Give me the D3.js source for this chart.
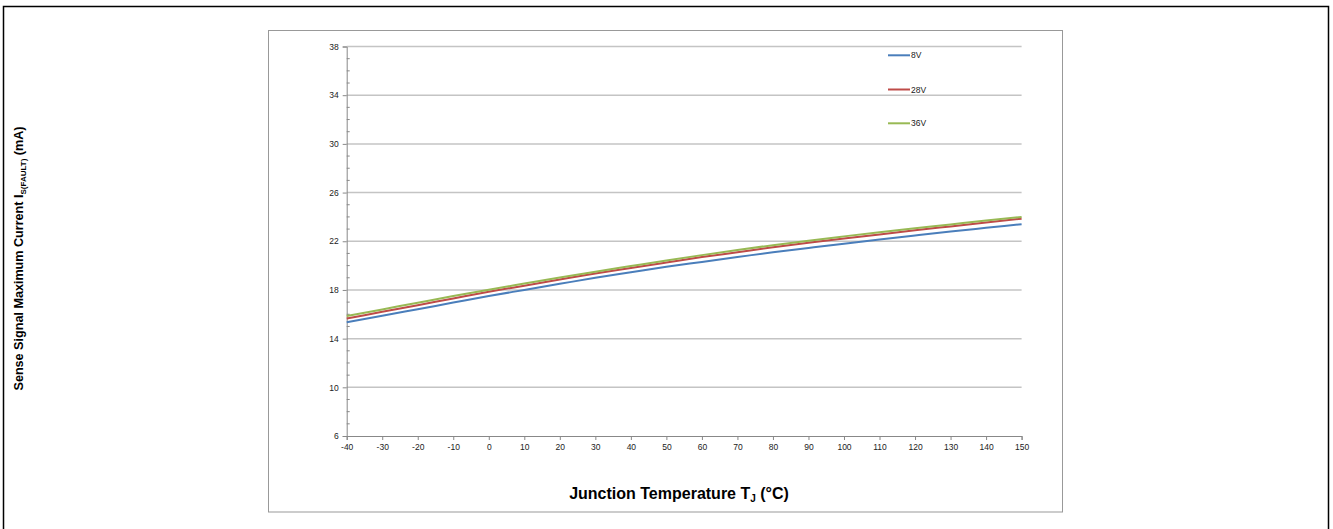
<!DOCTYPE html>
<html>
<head>
<meta charset="utf-8">
<script src="https://cdn.jsdelivr.net/npm/d3@7"></script>
<style>
  html, body { margin: 0; padding: 0; background: #fff; }
  svg { display: block; }
</style>
</head>
<body>
<svg id="chart" width="1333" height="529"></svg>
<script>
const temps = [-40,-30,-20,-10,0,10,20,30,40,50,60,70,80,90,100,110,120,130,140,150];
const v8  = [15.35,15.88,16.42,16.96,17.5,18.0,18.5,19.0,19.45,19.9,20.3,20.7,21.1,21.45,21.8,22.15,22.48,22.8,23.1,23.4];
const v28 = [15.65,16.2,16.75,17.3,17.85,18.35,18.85,19.35,19.8,20.25,20.7,21.1,21.5,21.88,22.22,22.56,22.9,23.22,23.54,23.85];
const v36 = [15.85,16.4,16.95,17.5,18.02,18.52,19.02,19.5,19.96,20.42,20.86,21.28,21.68,22.05,22.4,22.74,23.06,23.38,23.7,24.0];
const seriesNames = ["8V","28V","36V"];
const seriesColors = ["#4a7ebb","#be4b48","#98b954"];
const yTicks = [6,10,14,18,22,26,30,34,38];
const xTicks = [-40,-30,-20,-10,0,10,20,30,40,50,60,70,80,90,100,110,120,130,140,150];

const svg = d3.select("#chart");
const font = "Liberation Sans, Arial, sans-serif";

// outer frames
svg.append("path").attr("d","M3.5,535 V6.5 H1328.5 V535").attr("fill","none").attr("stroke","#000").attr("stroke-width",1.5);
svg.append("rect").attr("x",268.5).attr("y",30.5).attr("width",794).attr("height",481.5)
  .attr("fill","none").attr("stroke","#999").attr("stroke-width",1);

const x = d3.scaleLinear().domain([-40,150]).range([346.7,1021.6]);
const y = d3.scaleLinear().domain([6,38]).range([436,46.5]);

// gridlines
svg.append("g").selectAll("line").data(yTicks.filter(d=>d>6)).join("line")
  .attr("x1",x(-40)).attr("x2",x(150))
  .attr("y1",d=>y(d)).attr("y2",d=>y(d))
  .attr("stroke","#c4c4c4").attr("stroke-width",1.5);

// minor y ticks (inside)
svg.append("g").selectAll("line").data(d3.range(6,38.01,1).filter(d=>d%4!==2)).join("line")
  .attr("x1",x(-40)).attr("x2",x(-40)+3)
  .attr("y1",d=>y(d)).attr("y2",d=>y(d))
  .attr("stroke","#888").attr("stroke-width",1);

// y axis
const fmt = d => String(d);
const yAxis = d3.axisLeft(y).tickValues(yTicks).tickSize(4).tickFormat(fmt);
const gy = svg.append("g").attr("transform",`translate(${x(-40)},0)`).call(yAxis);
gy.select(".domain").attr("stroke","#888");
gy.selectAll(".tick line").attr("stroke","#888");
gy.selectAll(".tick text").attr("font-family",font).attr("font-size",8.5).attr("fill","#222").attr("x",-8);

// x axis
const xAxis = d3.axisBottom(x).tickValues(xTicks).tickSize(4).tickFormat(fmt);
const gx = svg.append("g").attr("transform",`translate(0,${y(6)})`).call(xAxis);
gx.select(".domain").attr("stroke","#888");
gx.selectAll(".tick line").attr("stroke","#888");
gx.selectAll(".tick text").attr("font-family",font).attr("font-size",8.5).attr("fill","#222").attr("y",8);

// series
const allVals = [v8,v28,v36];
const line = d3.line().x((d,i)=>x(temps[i])).y(d=>y(d)).curve(d3.curveMonotoneX);
allVals.forEach((vals,k)=>{
  svg.append("path").datum(vals).attr("d",line)
    .attr("fill","none").attr("stroke",seriesColors[k]).attr("stroke-width",2);
});

// legend
const legY = [55.3,89.5,123.3];
seriesNames.forEach((n,k)=>{
  svg.append("line").attr("x1",888).attr("x2",910).attr("y1",legY[k]).attr("y2",legY[k])
    .attr("stroke",seriesColors[k]).attr("stroke-width",2);
  svg.append("text").attr("x",911).attr("y",legY[k]+3).attr("font-family",font)
    .attr("font-size",8.5).attr("fill","#222").text(n);
});

// x title
const xt = svg.append("text").attr("x",679).attr("y",499).attr("text-anchor","middle")
  .attr("font-family",font).attr("font-size",16).attr("font-weight","bold").attr("fill","#000");
xt.append("tspan").text("Junction Temperature T");
xt.append("tspan").attr("font-size",10).attr("dy",3).text("J");
xt.append("tspan").attr("dy",-3).text(" (°C)");

// y title
const yt = svg.append("text").attr("transform","translate(23,258.5) rotate(-90)").attr("text-anchor","middle")
  .attr("font-family",font).attr("font-size",12.6).attr("font-weight","bold").attr("fill","#000");
yt.append("tspan").text("Sense Signal Maximum  Current I");
yt.append("tspan").attr("font-size",8).attr("dy",3).text("S(FAULT)");
yt.append("tspan").attr("dy",-3).text(" (mA)");
</script>
</body>
</html>
